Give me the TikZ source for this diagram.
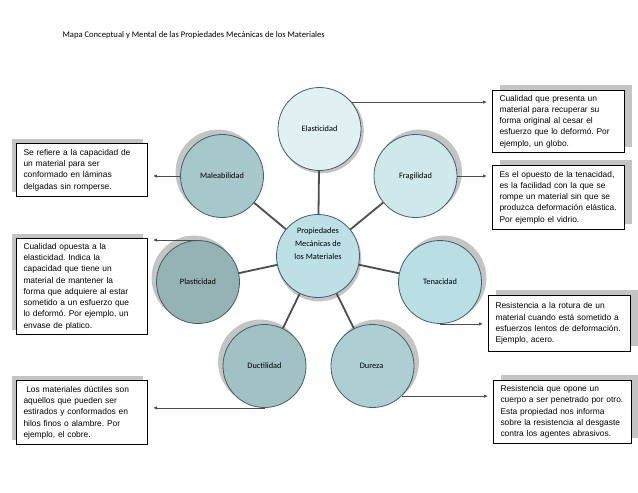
\documentclass[tikz,border=0pt]{standalone}
\usepackage{fontspec}
\setmainfont{Liberation Sans}
\newfontfamily\calibri{Carlito}
\usepackage{xcolor}
\usepackage{tikz}
\usetikzlibrary{shadows, arrows.meta}
\frenchspacing

\definecolor{borde}{HTML}{3F5F63}
\definecolor{sombra}{HTML}{C4C4C4}
\definecolor{espina}{HTML}{4D4D4D}
\definecolor{cElas}{HTML}{E1F1F3}
\definecolor{cFrag}{HTML}{CEE8EC}
\definecolor{cCentro}{HTML}{BCE0E5}
\definecolor{cTen}{HTML}{B9DEE3}
\definecolor{cDur}{HTML}{ADCFD4}
\definecolor{cMal}{HTML}{A7C8CB}
\definecolor{cDuc}{HTML}{A1C1C4}
\definecolor{cPlas}{HTML}{95B2B5}

\tikzset{
    prop/.style={circle, draw=borde, line width=0.8pt, minimum size=83pt, inner sep=0pt,
        font=\calibri\fontsize{8.3}{13}\selectfont, align=center},
    desc/.style={draw=black, line width=1pt, fill=white, anchor=north west, align=left,
        inner xsep=7pt, inner ysep=4pt, font=\fontsize{8.4}{11.3}\selectfont},
    sderecha/.style={general shadow={fill=sombra, shadow xshift=7pt, shadow yshift=6pt}},
    sizquierda/.style={general shadow={fill=sombra, shadow xshift=-5pt, shadow yshift=5pt}},
    flecha/.style={draw=espina, line width=0.8pt, -{Latex[length=4pt,width=3.5pt]}, shorten >=5pt},
}

\begin{document}
\begin{tikzpicture}[x=1pt, y=-1pt]
    \useasboundingbox (0,0) rectangle (638,493);

    % Title
    \node[font=\calibri\fontsize{8.6}{10}\selectfont, anchor=west] (titulo) at (59,35)
        {Mapa Conceptual y Mental de las Propiedades Mecánicas de los Materiales};

    % Properties (circles)
    \foreach \nombre/\x/\y/\col/\sx/\sy/\txt in {
        centro/318/256/cCentro/1/-3/{},
        elas/319.5/129/cElas/2/-2/Elasticidad,
        mal/222/176/cMal/-4/4/Maleabilidad,
        frag/415.5/176/cFrag/4/4/Fragilidad,
        plas/198/282/cPlas/-4/4/Plasticidad,
        ten/440/282/cTen/4/4/Tenacidad,
        duc/264.5/366/cDuc/-4/4/Ductilidad,
        dur/372.5/366/cDur/4/4/Dureza
    } {
        \node[prop, fill=\col, general shadow={fill=sombra, shadow xshift=\sx pt, shadow yshift=\sy pt, shadow scale=1.02}]
            (\nombre) at (\x,\y) {\txt};
    }
    \node[font=\calibri\fontsize{8.3}{13}\selectfont, align=center] (centro-txt) at (318,244)
        {Propiedades\\Mecánicas de\\los Materiales};

    % Spokes
    \foreach \n in {elas, mal, frag, plas, ten, duc, dur} {
        \draw[espina, line width=1.8pt] (centro) -- (\n);
    }

    % Descriptions, right side
    \node[desc, sderecha, text width=118pt, minimum height=62pt] (rb1) at (492,90)
        {Cualidad que presenta un\\material para recuperar su\\forma original al cesar el\\esfuerzo que lo deformó. Por\\ejemplo, un globo.};
    \node[desc, sderecha, text width=118pt, minimum height=64pt] (rb2) at (492,165)
        {Es el opuesto de la tenacidad,\\es la facilidad con la que se\\rompe un material sin que se\\produzca deformación elástica.\\Por ejemplo el vidrio.};
    \node[desc, sderecha, text width=128pt, minimum height=56pt] (rb3) at (488,295)
        {Resistencia a la rotura de un\\material cuando está sometido a\\esfuerzos lentos de deformación.\\Ejemplo, acero.};
    \node[desc, sderecha, text width=124pt, minimum height=63pt] (rb4) at (493,380)
        {Resistencia que opone un\\cuerpo a ser penetrado por otro.\\Esta propiedad nos informa\\sobre la resistencia al desgaste\\contra los agentes abrasivos.};

    % Descriptions, left side
    \node[desc, sizquierda, text width=117pt, minimum height=53pt] (lb1) at (16,143)
        {Se refiere a la capacidad de\\un material para ser\\conformado en láminas\\delgadas sin romperse.};
    \node[desc, sizquierda, text width=117pt, minimum height=96pt] (lb2) at (16,238)
        {Cualidad opuesta a la\\elasticidad. Indica la\\capacidad que tiene un\\material de mantener la\\forma que adquiere al estar\\sometido a un esfuerzo que\\lo deformó. Por ejemplo, un\\envase de platico.};
    \node[desc, sizquierda, text width=117pt, minimum height=64pt] (lb3) at (16,380)
        {\ Los materiales dúctiles son\\aquellos que pueden ser\\estirados y conformados en\\hilos finos o alambre. Por\\ejemplo, el cobre.};

    % Arrows
    \draw[flecha] (elas.40) -- (elas.40 -| rb1.west);
    \draw[flecha] (frag.east) -- (frag.east -| rb2.west);
    \draw[flecha] (ten.south) -- (ten.south -| rb3.west);
    \draw[flecha] (dur.-46) -- (dur.-46 -| rb4.west);
    \draw[flecha] (mal.west) -- (mal.west -| lb1.east);
    \draw[flecha] (plas.north) -- (plas.north -| lb2.east);
    \draw[flecha] (duc.south) -- (duc.south -| lb3.east);
\end{tikzpicture}
\end{document}
